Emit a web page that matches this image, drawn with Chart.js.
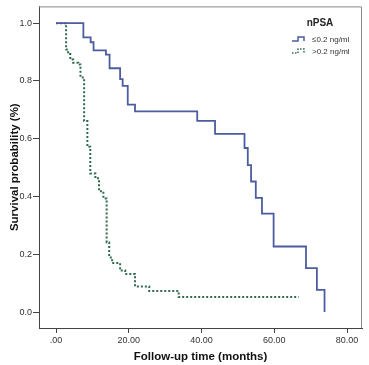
<!DOCTYPE html>
<html>
<head>
<meta charset="utf-8">
<script src="https://cdn.jsdelivr.net/npm/chart.js@4.4.1/dist/chart.umd.min.js"></script>
<style>
  html, body { margin: 0; padding: 0; background: #fff; }
  #wrap { width: 369px; height: 365px; }
</style>
</head>
<body>
<div id="wrap"><canvas id="c" width="369" height="365"></canvas></div>
<script>
// ---- Data ----
const lowTimes = [0, 7.5, 9.5, 10.3, 13.7, 14.7, 17.6, 18.3, 19.7, 21.7, 38.8, 43.7, 51.8, 52.7, 53.6, 54.9, 56.6, 59.8, 68.7, 71.7, 73.8];
const lowSurv  = [1.0, 0.951, 0.934, 0.906, 0.891, 0.844, 0.806, 0.783, 0.718, 0.695, 0.662, 0.617, 0.568, 0.509, 0.452, 0.395, 0.341, 0.227, 0.152, 0.077, 0.0];
const highTimes = [0, 2.75, 3.3, 3.9, 4.7, 6.1, 6.7, 7.7, 8.6, 9.4, 10.8, 11.8, 13.0, 13.9, 14.6, 15.4, 17.6, 19.0, 21.7, 25.6, 33.7, 66.7];
const highSurv  = [1.0, 0.909, 0.893, 0.874, 0.863, 0.857, 0.812, 0.661, 0.572, 0.48, 0.463, 0.418, 0.393, 0.241, 0.189, 0.170, 0.144, 0.132, 0.089, 0.073, 0.052, 0.052];
const seriesLabels = ['\u22640.2 ng/ml', '>0.2 ng/ml'];
const legendTitle = 'nPSA';
const xTickValues = [0, 20, 40, 60, 80];
const yTickValues = [0, 0.2, 0.4, 0.6, 0.8, 1.0];
const xTitle = 'Follow-up time (months)';
const yTitle = 'Survival probability (%)';

const BLUE = '#4b5d9f';
const GREEN = '#2f6a4e';
const FONT = 'Arial, "Liberation Sans", sans-serif';

const toPts = (t, s) => t.map((v, i) => ({ x: v, y: s[i] }));

const framePlugin = {
  id: 'frame',
  afterDatasetsDraw(chart) {
    const { ctx, chartArea: a } = chart;
    ctx.save();
    ctx.strokeStyle = '#8a8a8a';
    ctx.lineWidth = 1;
    ctx.beginPath();
    ctx.moveTo(a.left, a.top + 0.5);
    ctx.lineTo(a.right - 0.5, a.top + 0.5);
    ctx.lineTo(a.right - 0.5, a.bottom);
    ctx.stroke();
    ctx.restore();
  }
};

const legendPlugin = {
  id: 'kmLegend',
  afterDraw(chart) {
    const { ctx } = chart;
    ctx.save();
    ctx.fillStyle = '#222';
    ctx.font = 'bold 10px ' + FONT;
    ctx.textAlign = 'center';
    ctx.textBaseline = 'middle';
    ctx.fillText(legendTitle, 320, 23);
    ctx.font = '8px ' + FONT;
    ctx.textAlign = 'left';
    const items = [
      { y: 40, color: BLUE, dash: [], w: 1.5 },
      { y: 52, color: GREEN, dash: [1.5, 1.5], w: 1.5 }
    ];
    items.forEach((it, i) => {
      ctx.strokeStyle = it.color;
      ctx.lineWidth = it.w;
      ctx.setLineDash(it.dash);
      ctx.beginPath();
      const x0 = 292, y = it.y;
      ctx.moveTo(x0, y + 1);
      ctx.lineTo(x0 + 6, y + 1);
      ctx.lineTo(x0 + 6, y - 3);
      ctx.lineTo(x0 + 12, y - 3);
      ctx.lineTo(x0 + 12, y + 1);
      ctx.stroke();
      ctx.setLineDash([]);
      ctx.fillStyle = '#333';
      ctx.fillText(seriesLabels[i], 312, y);
    });
    ctx.restore();
  }
};

new Chart(document.getElementById('c'), {
  type: 'line',
  data: {
    datasets: [
      {
        label: seriesLabels[0],
        data: toPts(lowTimes, lowSurv),
        borderColor: BLUE,
        borderWidth: 1.8,
        stepped: 'before',
        pointRadius: 0,
        fill: false
      },
      {
        label: seriesLabels[1],
        data: toPts(highTimes, highSurv),
        borderColor: GREEN,
        borderWidth: 2,
        borderDash: [2, 2],
        stepped: 'before',
        pointRadius: 0,
        fill: false
      }
    ]
  },
  options: {
    responsive: false,
    animation: false,
    devicePixelRatio: 1,
    layout: { padding: { left: 0, top: 3, right: 7, bottom: 0 } },
    plugins: {
      legend: { display: false },
      tooltip: { enabled: false }
    },
    scales: {
      x: {
        type: 'linear',
        min: -4.7,
        max: 84.1,
        afterBuildTicks: s => { s.ticks = xTickValues.map(v => ({ value: v })); },
        afterFit: s => { s.height = 37; },
        ticks: {
          autoSkip: false,
          maxRotation: 0,
          padding: 2,
          color: '#333',
          font: { family: FONT, size: 9 },
          callback: v => v === 0 ? '.00' : Number(v).toFixed(2)
        },
        grid: { display: true, drawOnChartArea: false, drawTicks: true, tickLength: 5, color: '#444' },
        border: { display: true, color: '#444', width: 1 },
        title: {
          display: true,
          text: xTitle,
          color: '#111',
          font: { family: FONT, size: 11.5, weight: 'bold' },
          padding: { top: 0, bottom: 1 }
        }
      },
      y: {
        type: 'linear',
        min: -0.055,
        max: 1.058,
        afterBuildTicks: s => { s.ticks = yTickValues.map(v => ({ value: v })); },
        afterFit: s => { s.width = 39; },
        ticks: {
          autoSkip: false,
          padding: 1,
          color: '#333',
          font: { family: FONT, size: 9 },
          callback: v => Number(v).toFixed(1)
        },
        grid: { display: true, drawOnChartArea: false, drawTicks: true, tickLength: 6, color: '#444' },
        border: { display: true, color: '#444', width: 1 },
        title: {
          display: true,
          text: yTitle,
          color: '#111',
          font: { family: FONT, size: 11.5, weight: 'bold' },
          padding: { top: 8, bottom: 0 }
        }
      }
    }
  },
  plugins: [framePlugin, legendPlugin]
});
</script>
</body>
</html>
